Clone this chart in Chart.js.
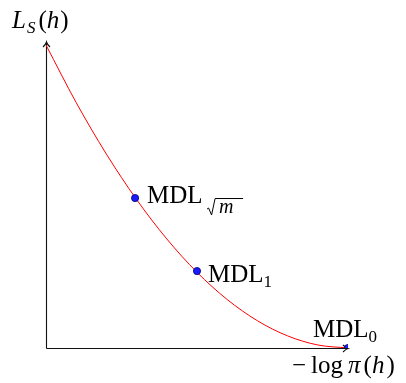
<!DOCTYPE html>
<html><head><meta charset="utf-8">
<script src="https://cdn.jsdelivr.net/npm/chart.js@4/dist/chart.umd.min.js"></script>
<style>html,body{margin:0;padding:0;background:#fff}#wrap{width:406px;height:383px}</style>
</head><body><div id="wrap"><canvas id="c" width="406" height="383"></canvas></div>
<script>
// curve (x = -log pi(h), y = L_S(h)), both normalised 0..1
const curveX = [0, 0.1, 0.2, 0.3, 0.4, 0.5, 0.6, 0.7, 0.8, 0.9, 1.0];
const curveY = [1.0, 0.81, 0.64, 0.49, 0.36, 0.25, 0.16, 0.09, 0.04, 0.01, 0.0];
// marked points
const pointNames = ["sqrtm", "1", "0"];
const pointX = [0.295, 0.5, 1.0];
const pointY = [0.495, 0.254, 0.0];

const serif = '"Liberation Serif", "DejaVu Serif", serif';
const MAIN = 25, SUB = 17;
function drawParts(ctx, x, y, parts) {
  let cx = x;
  for (const p of parts) {
    const size = p.size || (p.sub ? SUB : MAIN);
    ctx.font = (p.italic ? 'italic ' : '') + size + 'px ' + serif;
    const dy = p.sub ? 5 : 0;
    cx += (p.pre || 0);
    ctx.fillText(p.t, cx, y + dy);
    cx += ctx.measureText(p.t).width + (p.gap || 0);
  }
  return cx;
}

const overlay = {
  id: 'overlay',
  beforeDatasetsDraw(chart) {
    const ctx = chart.ctx;
    const xs = chart.scales.x, ys = chart.scales.y;
    const x0 = Math.round(xs.getPixelForValue(0)) + 0.5;
    const y0 = Math.round(ys.getPixelForValue(0)) + 0.5;
    const yTop = chart.chartArea.top;
    const xEnd = xs.getPixelForValue(1.0);
    ctx.save();
    ctx.strokeStyle = '#111';
    ctx.lineWidth = 1.1;
    ctx.beginPath();
    ctx.moveTo(x0, y0); ctx.lineTo(x0, yTop);
    ctx.moveTo(x0, y0); ctx.lineTo(xEnd, y0);
    ctx.moveTo(x0 - 3.5, yTop + 5); ctx.quadraticCurveTo(x0 - 0.5, yTop + 2, x0, yTop);
    ctx.quadraticCurveTo(x0 + 0.5, yTop + 2, x0 + 3.5, yTop + 5);
    ctx.moveTo(xEnd - 5, y0 - 3.5); ctx.quadraticCurveTo(xEnd - 2, y0 - 0.5, xEnd, y0);
    ctx.quadraticCurveTo(xEnd - 2, y0 + 0.5, xEnd - 5, y0 + 3.5);
    ctx.stroke();
    ctx.restore();
  },
  afterDatasetsDraw(chart) {
    const ctx = chart.ctx;
    const pts = chart.getDatasetMeta(1).data;
    ctx.save();
    ctx.fillStyle = '#000';
    ctx.textBaseline = 'alphabetic';
    ctx.textAlign = 'left';
    // MDL sqrt(m)
    let p = pts[0];
    drawParts(ctx, p.x + 12, p.y + 5, [{t: 'MDL'}]);
    const rx = p.x + 72, ry = p.y + 17;
    ctx.strokeStyle = '#000'; ctx.lineWidth = 1;
    ctx.beginPath();
    ctx.moveTo(rx, ry - 6); ctx.lineTo(rx + 1.5, ry - 7); ctx.lineTo(rx + 4.5, ry); ctx.lineTo(rx + 8, ry - 16.5); ctx.lineTo(rx + 36, ry - 16.5);
    ctx.stroke();
    ctx.font = 'italic 20px ' + serif;
    ctx.fillText('m', rx + 12, ry - 2);
    // MDL_1
    p = pts[1];
    drawParts(ctx, p.x + 11, p.y + 11, [{t: 'MDL'}, {t: '1', sub: true}]);
    // MDL_0
    p = pts[2];
    drawParts(ctx, p.x - 35, p.y - 11, [{t: 'MDL'}, {t: '0', sub: true}]);
    // y axis label L_S(h)
    const xs = chart.scales.x, ys = chart.scales.y;
    const ax = xs.getPixelForValue(0);
    drawParts(ctx, ax - 34, 28, [{t: 'L', italic: true, gap: 1}, {t: 'S', italic: true, sub: true, gap: 3}, {t: '('}, {t: 'h', italic: true, gap: 1}, {t: ')'}]);
    // x axis label -log pi(h)
    const bx = xs.getPixelForValue(1.0), by = ys.getPixelForValue(0);
    drawParts(ctx, bx - 56, by + 25, [{t: '\u2212', gap: 5}, {t: 'log', gap: 5}, {t: 'π', italic: true, gap: 3}, {t: '('}, {t: 'h', italic: true, gap: 2}, {t: ')'}]);
    ctx.restore();
  }
};

const ctx = document.getElementById('c').getContext('2d');
new Chart(ctx, {
  type: 'scatter',
  data: {
    datasets: [
      {
        data: curveX.map((x, i) => ({x, y: curveY[i]})),
        showLine: true, borderColor: '#ff0000', borderWidth: 1,
        pointRadius: 0, cubicInterpolationMode: 'monotone', fill: false, order: 2
      },
      {
        data: pointX.map((x, i) => ({x, y: pointY[i]})),
        showLine: false, pointRadius: 3.6, pointBackgroundColor: '#1a1aff',
        pointBorderColor: '#000070', pointBorderWidth: 0.8, order: 1
      }
    ]
  },
  options: {
    responsive: false, animation: false, devicePixelRatio: 1,
    layout: {padding: {left: 46, right: 58, top: 42, bottom: 35}},
    plugins: {legend: {display: false}, tooltip: {enabled: false}},
    scales: {
      x: {type: 'linear', min: 0, max: 1, display: false},
      y: {type: 'linear', min: 0, max: 1.01, display: false}
    }
  },
  plugins: [overlay]
});
</script></body></html>
